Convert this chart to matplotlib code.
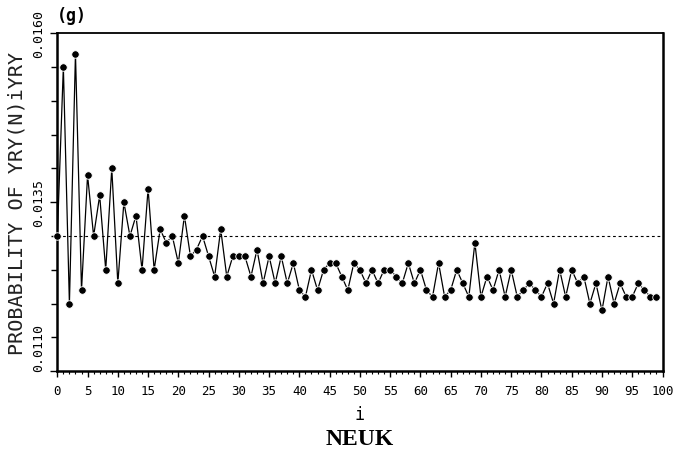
import numpy as np
import matplotlib.pyplot as plt
from matplotlib.ticker import MultipleLocator, FixedLocator

# step index i = 0..99
steps = list(range(100))

# probability values
probs = [
    0.0130, 0.0155, 0.0120, 0.0157, 0.0122, 0.0139, 0.0130, 0.0136, 0.0125, 0.0140,
    0.0123, 0.0135, 0.0130, 0.0133, 0.0125, 0.0137, 0.0125, 0.0131, 0.0129, 0.0130,
    0.0126, 0.0133, 0.0127, 0.0128, 0.0130, 0.0127, 0.0124, 0.0131, 0.0124, 0.0127,
    0.0127, 0.0127, 0.0124, 0.0128, 0.0123, 0.0127, 0.0123, 0.0127, 0.0123, 0.0126,
    0.0122, 0.0121, 0.0125, 0.0122, 0.0125, 0.0126, 0.0126, 0.0124, 0.0122, 0.0126,
    0.0125, 0.0123, 0.0125, 0.0123, 0.0125, 0.0125, 0.0124, 0.0123, 0.0126, 0.0123,
    0.0125, 0.0122, 0.0121, 0.0126, 0.0121, 0.0122, 0.0125, 0.0123, 0.0121, 0.0129,
    0.0121, 0.0124, 0.0122, 0.0125, 0.0121, 0.0125, 0.0121, 0.0122, 0.0123, 0.0122,
    0.0121, 0.0123, 0.0120, 0.0125, 0.0121, 0.0125, 0.0123, 0.0124, 0.0120, 0.0123,
    0.0119, 0.0124, 0.0120, 0.0123, 0.0121, 0.0121, 0.0123, 0.0122, 0.0121, 0.0121,
]

ref_level = 0.0130
y_labels = ['0.0110', '0.0135', '0.0160']
y_label_vals = [0.0110, 0.0135, 0.0160]

mono = 'DejaVu Sans Mono'

fig = plt.figure(figsize=(6.79, 4.64), dpi=100)
ax = fig.add_axes([0.0844, 0.198, 0.8913, 0.728])

# reference level
ax.axhline(ref_level, color='black', linestyle=(0, (2.5, 2.5)), linewidth=0.8, zorder=1)

# series
ax.plot(steps, probs, color='black', linewidth=0.9, zorder=2)
ax.plot(steps, probs, linestyle='none', marker='o', markersize=5.4,
        markerfacecolor='black', markeredgecolor='white', markeredgewidth=0.6,
        zorder=3, clip_on=False)

ax.set_xlim(0, 100)
ax.set_ylim(0.0110, 0.0160)

# x axis ticks
ax.xaxis.set_major_locator(MultipleLocator(5))
ax.xaxis.set_minor_locator(MultipleLocator(1))
ax.tick_params(axis='x', which='major', direction='out', length=4, width=1.0, pad=5,
               labelsize=9)
ax.tick_params(axis='x', which='minor', direction='out', length=2, width=0.8)
for lbl in ax.get_xticklabels():
    lbl.set_fontfamily(mono)

# y axis ticks
ax.yaxis.set_major_locator(FixedLocator(y_label_vals))
ax.yaxis.set_minor_locator(MultipleLocator(0.0005))
ax.set_yticklabels(y_labels, rotation=90, va='center', family=mono, fontsize=9.5)
ax.tick_params(axis='y', which='major', direction='out', length=5, width=1.0, pad=4)
ax.tick_params(axis='y', which='minor', direction='out', length=4, width=1.0)
ax.get_yticklabels()[0].set_va('bottom')

for side in ['left', 'right', 'bottom']:
    ax.spines[side].set_linewidth(1.8)
ax.spines['top'].set_linewidth(1.3)

ax.set_ylabel('PROBABILITY OF YRY(N)iYRY', family=mono, fontsize=14.5, labelpad=4,
              color='#222222')
ax.set_xlabel('i', family=mono, fontsize=12, labelpad=6)

fig.text(0.0844, 0.965, '(g)', family=mono, fontsize=12, fontweight='bold',
         ha='left', va='center')
fig.text(0.53, 0.052, 'NEUK', family='Liberation Serif', fontsize=17,
         fontweight='bold', ha='center', va='center')

plt.savefig('out.png', dpi=100)
